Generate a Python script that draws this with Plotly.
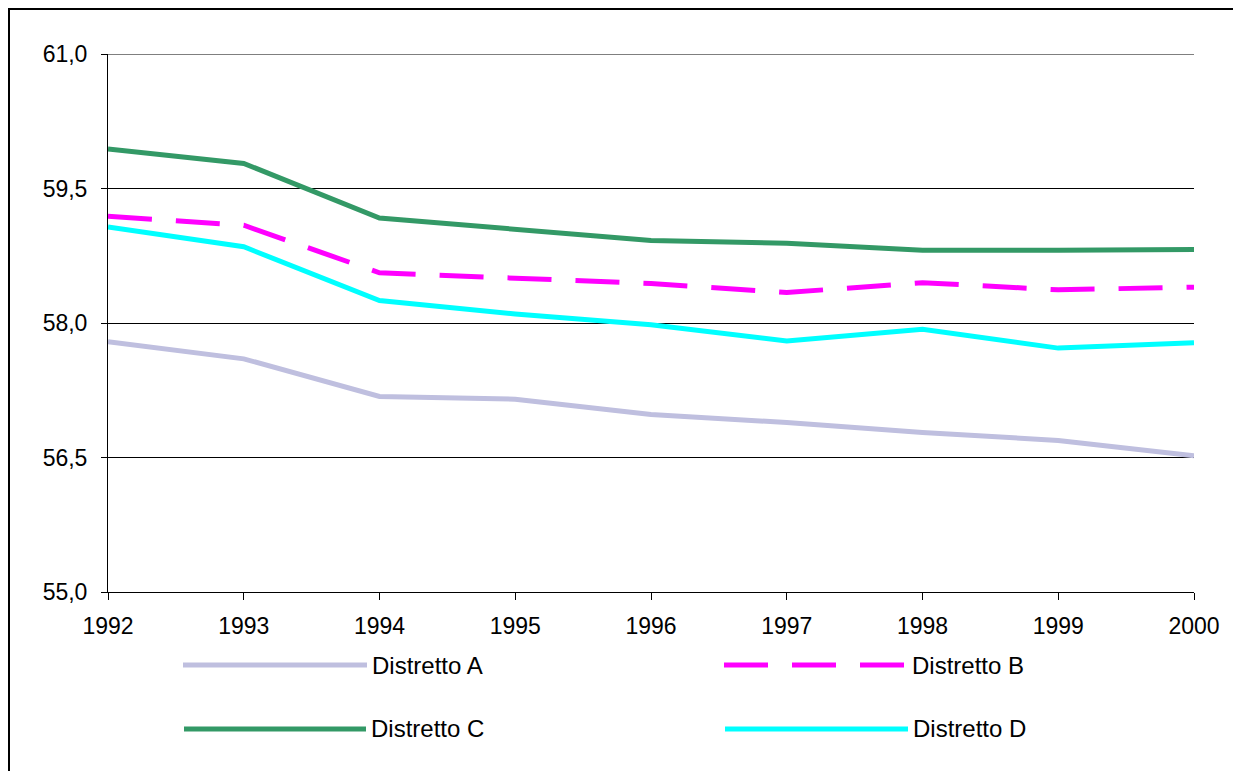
import plotly.graph_objects as go

years = [1992, 1993, 1994, 1995, 1996, 1997, 1998, 1999, 2000]
distretto_a = [57.79, 57.60, 57.18, 57.15, 56.98, 56.89, 56.78, 56.69, 56.52]
distretto_b = [59.19, 59.09, 58.56, 58.50, 58.44, 58.34, 58.45, 58.37, 58.40]
distretto_c = [59.94, 59.78, 59.17, 59.04, 58.92, 58.89, 58.81, 58.81, 58.82]
distretto_d = [59.07, 58.85, 58.25, 58.10, 57.98, 57.80, 57.93, 57.72, 57.78]
names = ["Distretto A", "Distretto B", "Distretto C", "Distretto D"]
y_ticks = [55.0, 56.5, 58.0, 59.5, 61.0]

colors = ["#BFBFDF", "#FF00FF", "#339966", "#00FFFF"]
dashes = ["solid", "44px,24px", "solid", "solid"]
series = [distretto_a, distretto_b, distretto_c, distretto_d]

# page has an 8px body margin; figure is sized to compensate
OFF = 8
W, H = 1241 - OFF, 771 - OFF
L, R, T, B = 108, 1194, 54, 592          # plot area in page pixels
FONT = "Arial, Liberation Sans, sans-serif"
FS = 23
FS_LEG = 24

fig = go.Figure()
for name, vals, col, dash in zip(names, series, colors, dashes):
    fig.add_trace(go.Scatter(x=years, y=vals, mode="lines", name=name,
                             line=dict(color=col, width=5, dash=dash),
                             showlegend=False))

def px2x(px):
    return (px - L) / (R - L)

def py2y(py):
    return (B - py) / (B - T)

shapes = []
# outer frame
shapes.append(dict(type="rect", xref="paper", yref="paper",
                   x0=px2x(9), x1=px2x(1240), y0=py2y(790), y1=py2y(9),
                   line=dict(color="black", width=2), fillcolor="rgba(0,0,0,0)"))
# top gridline
shapes.append(dict(type="line", xref="paper", yref="y", x0=0, x1=1, y0=61, y1=61,
                   line=dict(color="black", width=1)))

annotations = []
legend_pos = [(183, 367, 665), (724, 907, 665), (184, 366, 729), (725, 908, 729)]
for (x0, x1, yy), name, col, dash in zip(legend_pos, names, colors, dashes):
    shapes.append(dict(type="line", xref="paper", yref="paper",
                       x0=px2x(x0), x1=px2x(x1), y0=py2y(yy), y1=py2y(yy),
                       line=dict(color=col, width=5, dash=dash)))
    annotations.append(dict(xref="paper", yref="paper", x=px2x(x1 + 3), y=py2y(yy),
                            text=name, showarrow=False, xanchor="left", yanchor="middle",
                            font=dict(family=FONT, size=FS_LEG, color="black")))

fig.update_layout(
    width=W, height=H,
    margin=dict(l=L - OFF, r=W - (R - OFF), t=T - OFF, b=H - (B - OFF), pad=0),
    paper_bgcolor="white", plot_bgcolor="white",
    separators=", ",
    font=dict(family=FONT, size=FS, color="black"),
    shapes=shapes, annotations=annotations,
    xaxis=dict(range=[1992, 2000], tickvals=years, ticktext=[str(y) for y in years],
               showgrid=False, zeroline=False, showline=True, linecolor="black",
               linewidth=1, ticks="outside", ticklen=7, tickcolor="black",
               ticklabelstandoff=6,
               tickfont=dict(family=FONT, size=FS)),
    yaxis=dict(range=[55, 61], tickvals=y_ticks, tickformat=".1f",
               showgrid=True, gridcolor="black", gridwidth=1, zeroline=False,
               showline=True, linecolor="black", linewidth=1, ticks="outside",
               ticklen=6, tickcolor="black", ticklabelstandoff=9,
               tickfont=dict(family=FONT, size=FS)),
)

fig.write_html("out.html")
